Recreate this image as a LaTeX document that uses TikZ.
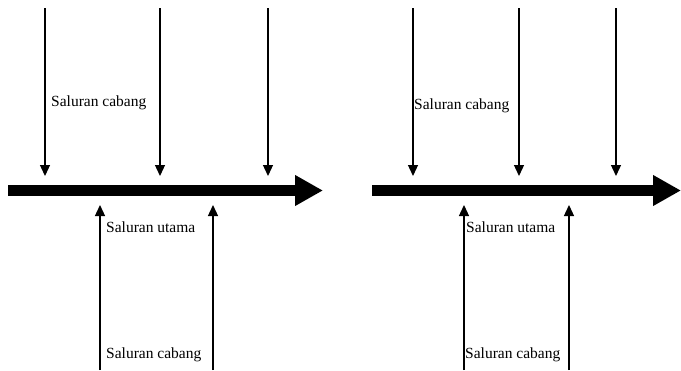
\documentclass[tikz,border=0pt]{standalone}
\usepackage{fontspec}
\setmainfont{Liberation Serif}
\usetikzlibrary{arrows.meta}
\begin{document}
\begin{tikzpicture}[x=1pt,y=-1pt,
  branch/.style={line width=1.3pt,-{Triangle[length=11pt,width=10pt]}},
  mainline/.style={line width=11.5pt,-{Triangle[length=28pt,width=29pt]}},
  lbl/.style={anchor=west,inner sep=0pt,font=\fontsize{15.5}{16}\selectfont}]
\useasboundingbox (0,0) rectangle (681,370);
% left diagram
\coordinate (m1s) at (8,190.5);
\coordinate (m1e) at (323,190.5);
\draw[mainline] (m1s) -- (m1e);
\foreach \n/\x in {a/45,b/160,c/268}{
  \coordinate (t1\n) at (\x,8);
  \coordinate (h1\n) at (\x,176);
  \draw[branch] (t1\n) -- (h1\n);
}
\foreach \n/\x in {a/100,b/213}{
  \coordinate (u1\n) at (\x,370);
  \coordinate (v1\n) at (\x,205);
  \draw[branch] (u1\n) -- (v1\n);
}
\node[lbl] (L1) at (51,103) {Saluran cabang};
\node[lbl] (L2) at (106,227) {Saluran utama};
\node[lbl] (L3) at (106,355) {Saluran cabang};
% right diagram
\coordinate (m2s) at (372,190.5);
\coordinate (m2e) at (681,190.5);
\draw[mainline] (m2s) -- (m2e);
\foreach \n/\x in {a/413,b/519,c/616}{
  \coordinate (t2\n) at (\x,8);
  \coordinate (h2\n) at (\x,176);
  \draw[branch] (t2\n) -- (h2\n);
}
\foreach \n/\x in {a/464,b/569}{
  \coordinate (u2\n) at (\x,370);
  \coordinate (v2\n) at (\x,205);
  \draw[branch] (u2\n) -- (v2\n);
}
\node[lbl] (R1) at (414,106) {Saluran cabang};
\node[lbl] (R2) at (466,227) {Saluran utama};
\node[lbl] (R3) at (465,355) {Saluran cabang};
\end{tikzpicture}
\end{document}
